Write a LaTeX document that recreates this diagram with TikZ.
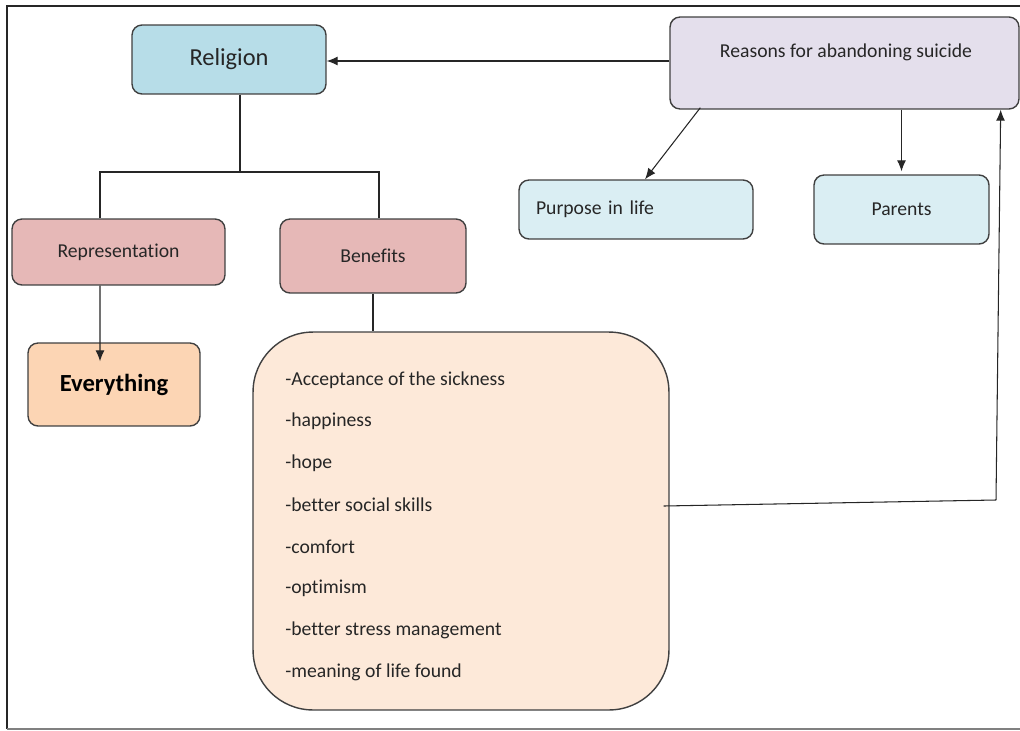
\documentclass[tikz,border=0pt]{standalone}
\usepackage{fontspec}
\setmainfont{Carlito}[Ligatures=NoCommon]
\usetikzlibrary{arrows.meta}
\tikzset{>={Latex[length=2.2mm, width=1.8mm]}}
\definecolor{religionblue}{HTML}{B7DDE8}
\definecolor{rosefill}{HTML}{E6B8B7}
\definecolor{peachfill}{HTML}{FCD5B4}
\definecolor{creamfill}{HTML}{FDE9D9}
\definecolor{lavenderfill}{HTML}{E4DFEC}
\definecolor{paleblue}{HTML}{DAEEF3}
\tikzset{
  box/.style={draw=black!75, line width=0.8pt, rounded corners=0.2cm, inner sep=0pt,
    text=black!85, font=\fontsize{11.2}{13}\selectfont},
  item/.style={anchor=west, inner sep=0pt, text=black!85, font=\fontsize{11.2}{13}\selectfont},
  link/.style={line width=0.6pt, black!85},
}

\begin{document}
\begin{tikzpicture}[x=0.02cm, y=-0.02cm]
    \useasboundingbox (0,0) rectangle (1020,730);
    % frame
    \draw[line width=0.9pt, black!85] (1020,6) -- (7,6) -- (7,729);
    \draw[line width=0.6pt, gray] (7,729) -- (1020,729);

    % left tree
    \node[box, fill=religionblue, minimum width=3.88cm, minimum height=1.38cm,
      font=\fontsize{13.9}{16}\selectfont] (religion) at (229,59.5) {Religion};
    \node[box, fill=rosefill, minimum width=4.26cm, minimum height=1.32cm] (representation) at (118.5,252) {Representation};
    \node[box, fill=rosefill, minimum width=3.72cm, minimum height=1.48cm] (benefits) at (373,256) {Benefits};
    \node[box, fill=peachfill, minimum width=3.44cm, minimum height=1.66cm,
      font=\bfseries\fontsize{14}{16}\selectfont, text=black] (everything) at (114,384.5) {Everything};
    \node[box, fill=creamfill, rounded corners=1.2cm, minimum width=8.32cm, minimum height=7.56cm] (big) at (461,521) {};
    \foreach \t [count=\i from 0] in {-Acceptance of the sickness, -happiness, -hope,
        -better social skills, -comfort, -optimism, -better stress management, -meaning of life found}
      \node[item] (item\i) at (285,{380+41.7*\i}) {\t};

    % right side
    \node[box, fill=lavenderfill, minimum width=6.98cm, minimum height=1.84cm] (reasons) at (844.5,63) {};
    \node[item, anchor=center] (reasonstext) at (846,52) {Reasons for abandoning suicide};
    \node[box, fill=paleblue, minimum width=4.68cm, minimum height=1.18cm, text width=4.0cm,
      align=left] (purpose) at (636,209.5) {\strut Purpose in life};
    \node[box, fill=paleblue, minimum width=3.5cm, minimum height=1.38cm] (parents) at (901.5,209.5) {Parents};

    % connectors
    \coordinate (fork) at (240,172);
    \draw[link] (religion.south -| fork) -- (fork);
    \draw[link] ([xshift=-0.37cm]representation.north) |- (fork) -| ([xshift=0.12cm]benefits.north);
    \draw[link, ->] ([xshift=-0.37cm]representation.south) -- ([xshift=-0.28cm, yshift=-0.38cm]everything.north);
    \draw[link] (benefits.south) -- (benefits.south |- big.north);
    \draw[link, ->] (reasons.west |- 0,61) -- (religion.east |- 0,61);
    \draw[link, ->] ([xshift=0.62cm, yshift=0.04cm]reasons.south west) -- ([xshift=0.18cm]purpose.north);
    \draw[link, ->] (parents.north |- reasons.south) -- ([yshift=0.06cm]parents.north);
    \coordinate (turn) at (996,500);
    \draw[link] ([xshift=-0.12cm, yshift=0.3cm]big.east) -- (turn);
    \draw[link, ->] (turn) -- ([xshift=-0.38cm]reasons.south east);
\end{tikzpicture}
\end{document}
